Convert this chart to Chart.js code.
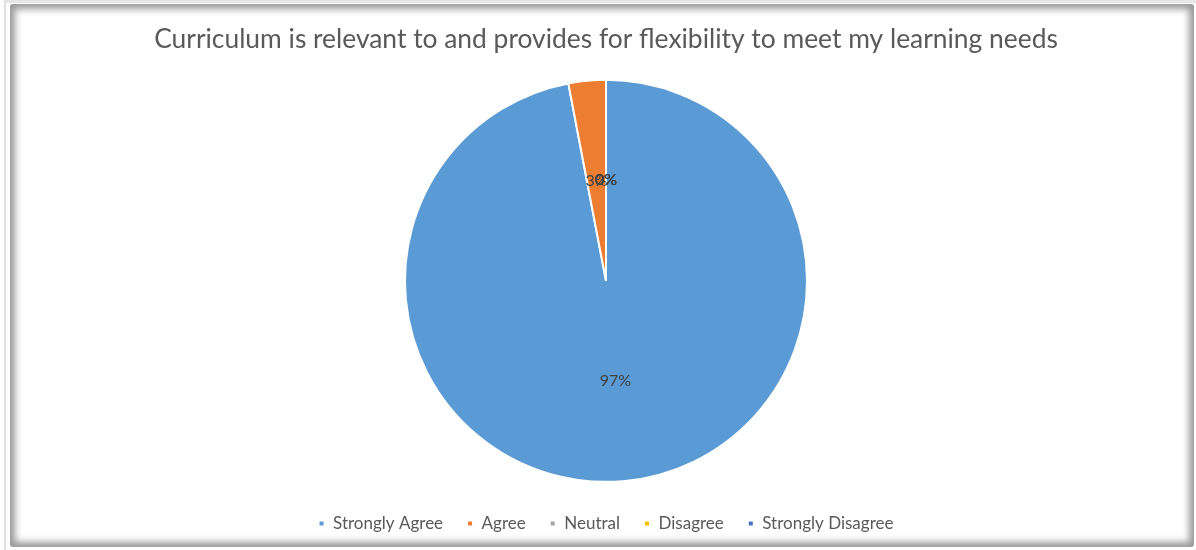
<!DOCTYPE html>
<html>
<head>
<meta charset="utf-8">
<script src="https://cdn.jsdelivr.net/npm/chart.js@4.4.1/dist/chart.umd.min.js"></script>
<style>
  html, body { margin: 0; padding: 0; background: #ffffff; }
  #wrap { position: relative; width: 1196px; height: 550px; overflow: hidden; background: #fff; }
  #edge { position: absolute; left: 4px; top: 0px; width: 1192px; height: 550px; border-left: 2px solid #e0e0e0; border-top: 3px solid #e6e6e6; box-sizing: border-box; }
  #frame { position: absolute; left: 10px; top: 4px; width: 1184px; height: 543px; box-shadow: inset 0 0 7px 5px #9a9a9a; border-radius: 3px; }
  #c { position: absolute; left: 0; top: 0; }
</style>
</head>
<body>
<div id="wrap">
  <div id="edge"></div>
  <div id="frame"></div>
  <canvas id="c" width="1196" height="550"></canvas>
</div>
<script>
const titleText = "Curriculum is relevant to and provides for flexibility to meet my learning needs";
const categories = ["Strongly Agree", "Agree", "Neutral", "Disagree", "Strongly Disagree"];
const values = [97, 3, 0, 0, 0];
const colors = ["#5B9BD5", "#ED7D31", "#A5A5A5", "#FFC000", "#4472C4"];

const labelPlugin = {
  id: 'sliceLabels',
  afterDatasetsDraw(chart) {
    const ctx = chart.ctx;
    const meta = chart.getDatasetMeta(0);
    const data = chart.data.datasets[0].data;
    const total = data.reduce((a, b) => a + b, 0);
    ctx.save();
    ctx.font = '16px Lato, "Open Sans", sans-serif';
    ctx.fillStyle = '#404040';
    ctx.textAlign = 'center';
    ctx.textBaseline = 'middle';
    meta.data.forEach((arc, i) => {
      const p = arc.tooltipPosition();
      const pct = Math.round(data[i] / total * 100) + '%';
      ctx.fillText(pct, p.x, p.y);
    });
    ctx.restore();
  }
};

new Chart(document.getElementById('c'), {
  type: 'pie',
  data: {
    labels: categories,
    datasets: [{
      data: values,
      backgroundColor: colors,
      borderColor: '#ffffff',
      borderWidth: 2,
      radius: 201
    }]
  },
  options: {
    responsive: false,
    animation: false,
    layout: { padding: { top: 0, bottom: 8, left: 16, right: 0 } },
    plugins: {
      tooltip: { enabled: false },
      title: {
        display: true,
        text: titleText,
        color: '#595959',
        font: { family: 'Lato, "Open Sans", sans-serif', size: 26.4, weight: 'normal' },
        padding: { top: 24, bottom: 15 }
      },
      legend: {
        position: 'bottom',
        labels: {
          color: '#595959',
          font: { family: 'Lato, "Open Sans", sans-serif', size: 17 },
          boxWidth: 6,
          boxHeight: 6,
          padding: 24
        }
      }
    }
  },
  plugins: [labelPlugin]
});
</script>
</body>
</html>
